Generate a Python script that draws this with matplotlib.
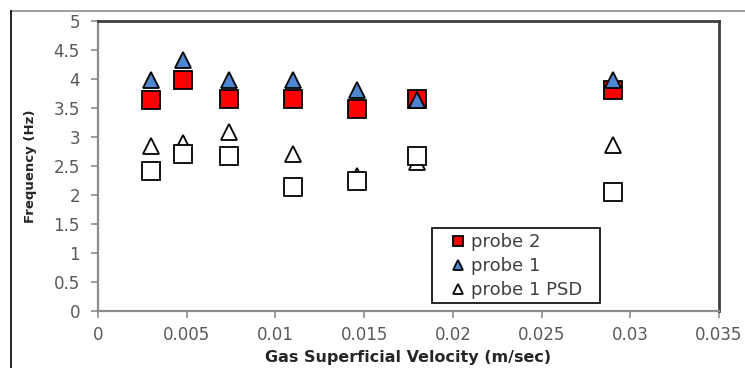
import matplotlib
matplotlib.use("Agg")
import matplotlib.pyplot as plt
from matplotlib.lines import Line2D
from matplotlib.patches import Rectangle

plt.rcParams["font.family"] = ["DejaVu Sans"]

# ── data ─────────────────────────────────────────────────────────────────────
velocity = [0.003, 0.0048, 0.0074, 0.011, 0.0146, 0.018, 0.029]
probe2 = [3.64, 3.99, 3.65, 3.65, 3.48, 3.65, 3.81]
probe1 = [3.98, 4.32, 3.99, 3.99, 3.81, 3.64, 3.98]
probe1_psd = [2.84, 2.90, 3.09, 2.70, 2.33, 2.57, 2.86]
probe2_psd = [2.42, 2.71, 2.67, 2.13, 2.24, 2.67, 2.06]

x_ticks = [0, 0.005, 0.01, 0.015, 0.02, 0.025, 0.03, 0.035]
x_tick_labels = ["0", "0.005", "0.01", "0.015", "0.02", "0.025", "0.03", "0.035"]
y_ticks = [0, 0.5, 1, 1.5, 2, 2.5, 3, 3.5, 4, 4.5, 5]
y_tick_labels = ["0", "0.5", "1", "1.5", "2", "2.5", "3", "3.5", "4", "4.5", "5"]

W, H = 745, 368
fig = plt.figure(figsize=(W / 100, H / 100), dpi=100)
fig.patch.set_facecolor("white")
ax = fig.add_axes([98 / W, 1 - 311 / H, (719 - 98) / W, (311 - 21) / H])

# outer frame lines of the original figure
fig.add_artist(Line2D([11 / W, 1], [1 - 11 / H, 1 - 11 / H], transform=fig.transFigure,
                      color="#8c8c8c", lw=1.2))
fig.add_artist(Line2D([11 / W, 11 / W], [0, 1 - 11 / H], transform=fig.transFigure,
                      color="black", lw=1.2))

ms_sq = 12.5
ms_tri = 12
mew = 1.3

ax.plot(velocity, probe1_psd, ls="none", marker="^", ms=ms_tri, mfc="white",
        mec="black", mew=mew, label="probe 1 PSD", zorder=3)
ax.plot(velocity, probe2_psd, ls="none", marker="s", ms=ms_sq, mfc="white",
        mec="black", mew=mew, zorder=4)
ax.plot(velocity, probe2, ls="none", marker="s", ms=ms_sq, mfc="#ff0000",
        mec="black", mew=mew, label="probe 2", zorder=5)
ax.plot(velocity, probe1, ls="none", marker="^", ms=ms_tri, mfc="#4f86d0",
        mec="black", mew=mew, label="probe 1", zorder=6)

ax.set_xlim(0, 0.035)
ax.set_ylim(0, 5)
ax.set_xticks(x_ticks)
ax.set_xticklabels(x_tick_labels)
ax.set_yticks(y_ticks)
ax.set_yticklabels(y_tick_labels)

ax.tick_params(axis="both", direction="out", length=5, width=1.2, color="#8c8c8c",
               labelcolor="#595959", labelsize=12)
ax.tick_params(axis="x", pad=6)
ax.tick_params(axis="y", pad=8)

for side in ["left", "bottom"]:
    ax.spines[side].set_color("#8c8c8c")
    ax.spines[side].set_linewidth(1.6)
for side in ["top", "right"]:
    ax.spines[side].set_color("#404040")
    ax.spines[side].set_linewidth(2)

ax.set_xlabel("Gas Superficial Velocity (m/sec)", fontsize=11.5, fontweight="bold",
              color="#262626", labelpad=4)
ax.set_ylabel("Frequency (Hz)", fontsize=9.5, fontweight="bold", color="#262626",
              labelpad=12)

# legend: box drawn separately so the inner padding can match the original
fig.add_artist(Rectangle((432 / W, 1 - 303 / H), (600 - 432) / W, (303 - 228) / H,
                         transform=fig.transFigure, fill=True, facecolor="white",
                         edgecolor="black", lw=1.2, zorder=7))
handles, labels = ax.get_legend_handles_labels()
order = [1, 2, 0]
leg = fig.legend([handles[i] for i in order], [labels[i] for i in order],
                 loc="upper left", bbox_to_anchor=(451 / W, 1 - 233 / H),
                 frameon=False, fontsize=13, markerscale=0.6, handlelength=0.8,
                 handletextpad=0.3, borderpad=0, labelspacing=0.33, borderaxespad=0)
leg.set_zorder(8)
for t in leg.get_texts():
    t.set_color("#404040")

fig.savefig("out.png", dpi=100, facecolor="white")
